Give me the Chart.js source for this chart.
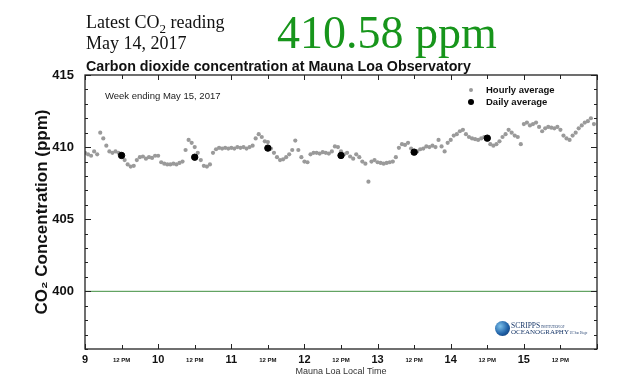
<!DOCTYPE html>
<html>
<head>
<meta charset="utf-8">
<title>Mauna Loa CO2 - week ending May 15, 2017</title>
<script src="https://cdn.jsdelivr.net/npm/chart.js@4.4.0/dist/chart.umd.min.js"></script>
<style>
  body { margin: 0; background: #fff; }
  #wrap { position: relative; width: 640px; height: 384px; overflow: hidden; }
  #wrap canvas { position: absolute; left: 0; top: 0; }
  .txt { position: absolute; white-space: nowrap; line-height: 1; }
  .serif { font-family: "Liberation Serif", "Times New Roman", serif; color: #111; }
  .sans { font-family: "Liberation Sans", Arial, sans-serif; color: #111; }
  .dot { position: absolute; border-radius: 50%; }
  #globe { position: absolute; left: 495px; top: 321px; width: 15px; height: 15px; border-radius: 50%;
           background: radial-gradient(circle at 35% 35%, #7cc0ea, #2163a8 55%, #0c2c60); }
</style>
</head>
<body>
<div id="wrap">
  <canvas id="co2Chart" width="640" height="384"></canvas>

  <div class="txt serif" style="left:86px; top:13px; font-size:18px;">Latest CO<sub style="font-size:13px; vertical-align:-5px;">2</sub> reading</div>
  <div class="txt serif" style="left:86px; top:34px; font-size:18px;">May 14, 2017</div>
  <div class="txt serif" style="left:277px; top:10px; font-size:46px; color:#17951b;">410.58 ppm</div>
  <div class="txt sans" style="left:86px; top:59px; font-size:14.25px; font-weight:bold;">Carbon dioxide concentration at Mauna Loa Observatory</div>

  <div class="txt sans" style="left:105px; top:91px; font-size:9.5px; color:#222;">Week ending May 15, 2017</div>

  <div class="dot" style="left:469px; top:88px; width:4px; height:4px; background:#9a9a9a;"></div>
  <div class="txt sans" style="left:486px; top:85px; font-size:9.5px; font-weight:bold;">Hourly average</div>
  <div class="dot" style="left:468px; top:99px; width:6px; height:6px; background:#000;"></div>
  <div class="txt sans" style="left:486px; top:97px; font-size:9.5px; font-weight:bold;">Daily average</div>

  <div id="globe"></div>
  <div class="txt serif" style="left:511px; top:322px; font-size:7.5px; color:#1b3a6b;">SCRIPPS<span style="font-size:3px;"> INSTITUTION OF</span></div>
  <div class="txt serif" style="left:511px; top:329px; font-size:7px; color:#1b3a6b;">OCEANOGRAPHY<span style="font-size:3px;"> UC San Diego</span></div>
</div>

<script>
// hourly averages, one value per hour (ppm)
const hourlyMay9  = [409.6, 409.5, 409.4, 409.7, 409.5, 411.0, 410.6, 410.1, 409.7, 409.6, 409.7, 409.6,
                     409.5, 409.1, 408.8, 408.65, 408.7, 409.1, 409.3, 409.35, 409.2, 409.3, 409.25, 409.4];
const hourlyMay10 = [409.4, 408.95, 408.85, 408.8, 408.8, 408.85, 408.8, 408.9, 409.0, 409.8, 410.5, 410.3,
                     410.0, 409.6, 409.1, 408.7, 408.65, 408.8, 409.6, 409.85, 409.95, 409.9, 409.95, 409.9];
const hourlyMay11 = [409.95, 409.9, 410.0, 409.95, 410.0, 409.9, 410.0, 410.1, 410.6, 410.9, 410.7, 410.4,
                     410.35, 409.9, 409.6, 409.3, 409.1, 409.15, 409.3, 409.5, 409.8, 410.45, 409.8, 409.3];
const hourlyMay12 = [409.0, 408.95, 409.5, 409.6, 409.6, 409.55, 409.65, 409.6, 409.55, 409.7, 410.05, 410.0,
                     409.7, 409.5, 409.6, 409.35, 409.2, 409.5, 409.3, 409.0, 408.85, 407.6, 409.0, 409.1];
const hourlyMay13 = [408.95, 408.9, 408.85, 408.9, 408.95, 409.0, 409.3, 409.95, 410.2, 410.15, 410.3, 409.9,
                     409.6, 409.7, 409.85, 409.9, 410.05, 410.0, 410.1, 410.0, 410.5, 410.05, 409.7, 410.3];
const hourlyMay14 = [410.5, 410.8, 410.9, 411.1, 411.2, 410.9, 410.7, 410.6, 410.55, 410.5, 410.6, 410.7,
                     410.55, 410.2, 410.1, 410.2, 410.4, 410.7, 410.9, 411.2, 411.0, 410.8, 410.7, 410.2];
const hourlyMay15 = [411.6, 411.7, 411.5, 411.6, 411.7, 411.4, 411.1, 411.3, 411.4, 411.35, 411.3, 411.4,
                     411.2, 410.8, 410.6, 410.5, 410.8, 411.0, 411.3, 411.5, 411.7, 411.8, 412.0, 411.6];

// daily averages, plotted at local noon (hours since May 9 00:00)
const dailyHours  = [12, 36, 60, 84, 108, 132];
const dailyValues = [409.42, 409.30, 409.93, 409.42, 409.65, 410.62];

const dayLabels = ['9', '10', '11', '12', '13', '14', '15'];
const noonLabel = '12 PM';
const referenceLevel = 400;

const sans = '"Liberation Sans", Arial, sans-serif';

const hourlyAll = [].concat(hourlyMay9, hourlyMay10, hourlyMay11, hourlyMay12, hourlyMay13, hourlyMay14, hourlyMay15);
const hourlyPoints = hourlyAll.map((v, i) => ({ x: i, y: v }));
const dailyPoints = dailyValues.map((v, i) => ({ x: dailyHours[i], y: v }));

// frame with inward tick marks on all four sides
const frameTicks = {
    id: 'frameTicks',
    afterDatasetsDraw(chart) {
        const { ctx, chartArea: a, scales: { x, y } } = chart;
        ctx.save();
        ctx.strokeStyle = '#222';
        ctx.lineWidth = 1;
        ctx.beginPath();
        x.ticks.forEach(t => {
            const px = Math.round(x.getPixelForValue(t.value)) + 0.5;
            const len = t.value % 24 === 0 ? 5 : 4;
            ctx.moveTo(px, a.bottom); ctx.lineTo(px, a.bottom - len);
            ctx.moveTo(px, a.top); ctx.lineTo(px, a.top + len);
        });
        y.ticks.forEach(t => {
            const py = Math.round(y.getPixelForValue(t.value)) + 0.5;
            const len = t.value % 5 === 0 ? 6 : 3;
            ctx.moveTo(a.left, py); ctx.lineTo(a.left + len, py);
            ctx.moveTo(a.right, py); ctx.lineTo(a.right - len, py);
        });
        ctx.stroke();
        ctx.lineWidth = 1.3;
        ctx.strokeRect(a.left, a.top, a.right - a.left, a.bottom - a.top);
        ctx.restore();
    }
};

const ctx = document.getElementById('co2Chart').getContext('2d');
const co2Chart = new Chart(ctx, {
    type: 'scatter',
    data: {
        datasets: [
            {
                label: 'Daily average',
                data: dailyPoints,
                backgroundColor: '#000',
                borderColor: '#000',
                pointRadius: 3.2
            },
            {
                label: 'Hourly average',
                data: hourlyPoints,
                backgroundColor: '#9a9a9a',
                borderColor: '#9a9a9a',
                borderWidth: 0,
                pointRadius: 2.1
            },
            {
                label: '400 ppm',
                data: [{ x: 0, y: referenceLevel }, { x: 168, y: referenceLevel }],
                showLine: true,
                borderColor: '#3f8f3f',
                borderWidth: 1,
                pointRadius: 0
            }
        ]
    },
    options: {
        responsive: false,
        animation: false,
        layout: { padding: { top: 75, right: 43, left: 0, bottom: 0 } },
        plugins: {
            legend: { display: false },
            tooltip: { enabled: false }
        },
        scales: {
            x: {
                type: 'linear',
                min: 0,
                max: 168,
                grid: { display: false },
                border: { display: false },
                ticks: {
                    stepSize: 12,
                    autoSkip: false,
                    maxRotation: 0,
                    padding: 3,
                    crossAlign: 'center',
                    color: '#111',
                    callback: v => v % 24 === 0 ? (dayLabels[v / 24] || '') : noonLabel,
                    // same line height for both sizes so the small labels sit level with the days
                    font: c => (c.tick && c.tick.value % 24 === 0)
                        ? { family: sans, size: 11, weight: 'bold', lineHeight: 1.2 }
                        : { family: sans, size: 6, weight: 'bold', lineHeight: 2.2 }
                },
                title: {
                    display: true,
                    text: 'Mauna Loa Local Time',
                    color: '#333',
                    font: { family: sans, size: 9 },
                    padding: { top: 0, bottom: 7 }
                },
                afterFit: s => { s.height = 35; }
            },
            y: {
                min: 396,
                max: 415,
                grid: { display: false },
                border: { display: false },
                ticks: {
                    stepSize: 1,
                    autoSkip: false,
                    padding: 3,
                    color: '#111',
                    font: { family: sans, size: 13, weight: 'bold' },
                    callback: v => v % 5 === 0 ? v : ''
                },
                title: {
                    display: true,
                    text: 'CO₂ Concentration (ppm)',
                    color: '#111',
                    font: { family: sans, size: 17, weight: 'bold' },
                    padding: { top: 32, bottom: 0 }
                },
                afterFit: s => { s.width = 85; }
            }
        }
    },
    plugins: [frameTicks]
});
</script>
</body>
</html>
